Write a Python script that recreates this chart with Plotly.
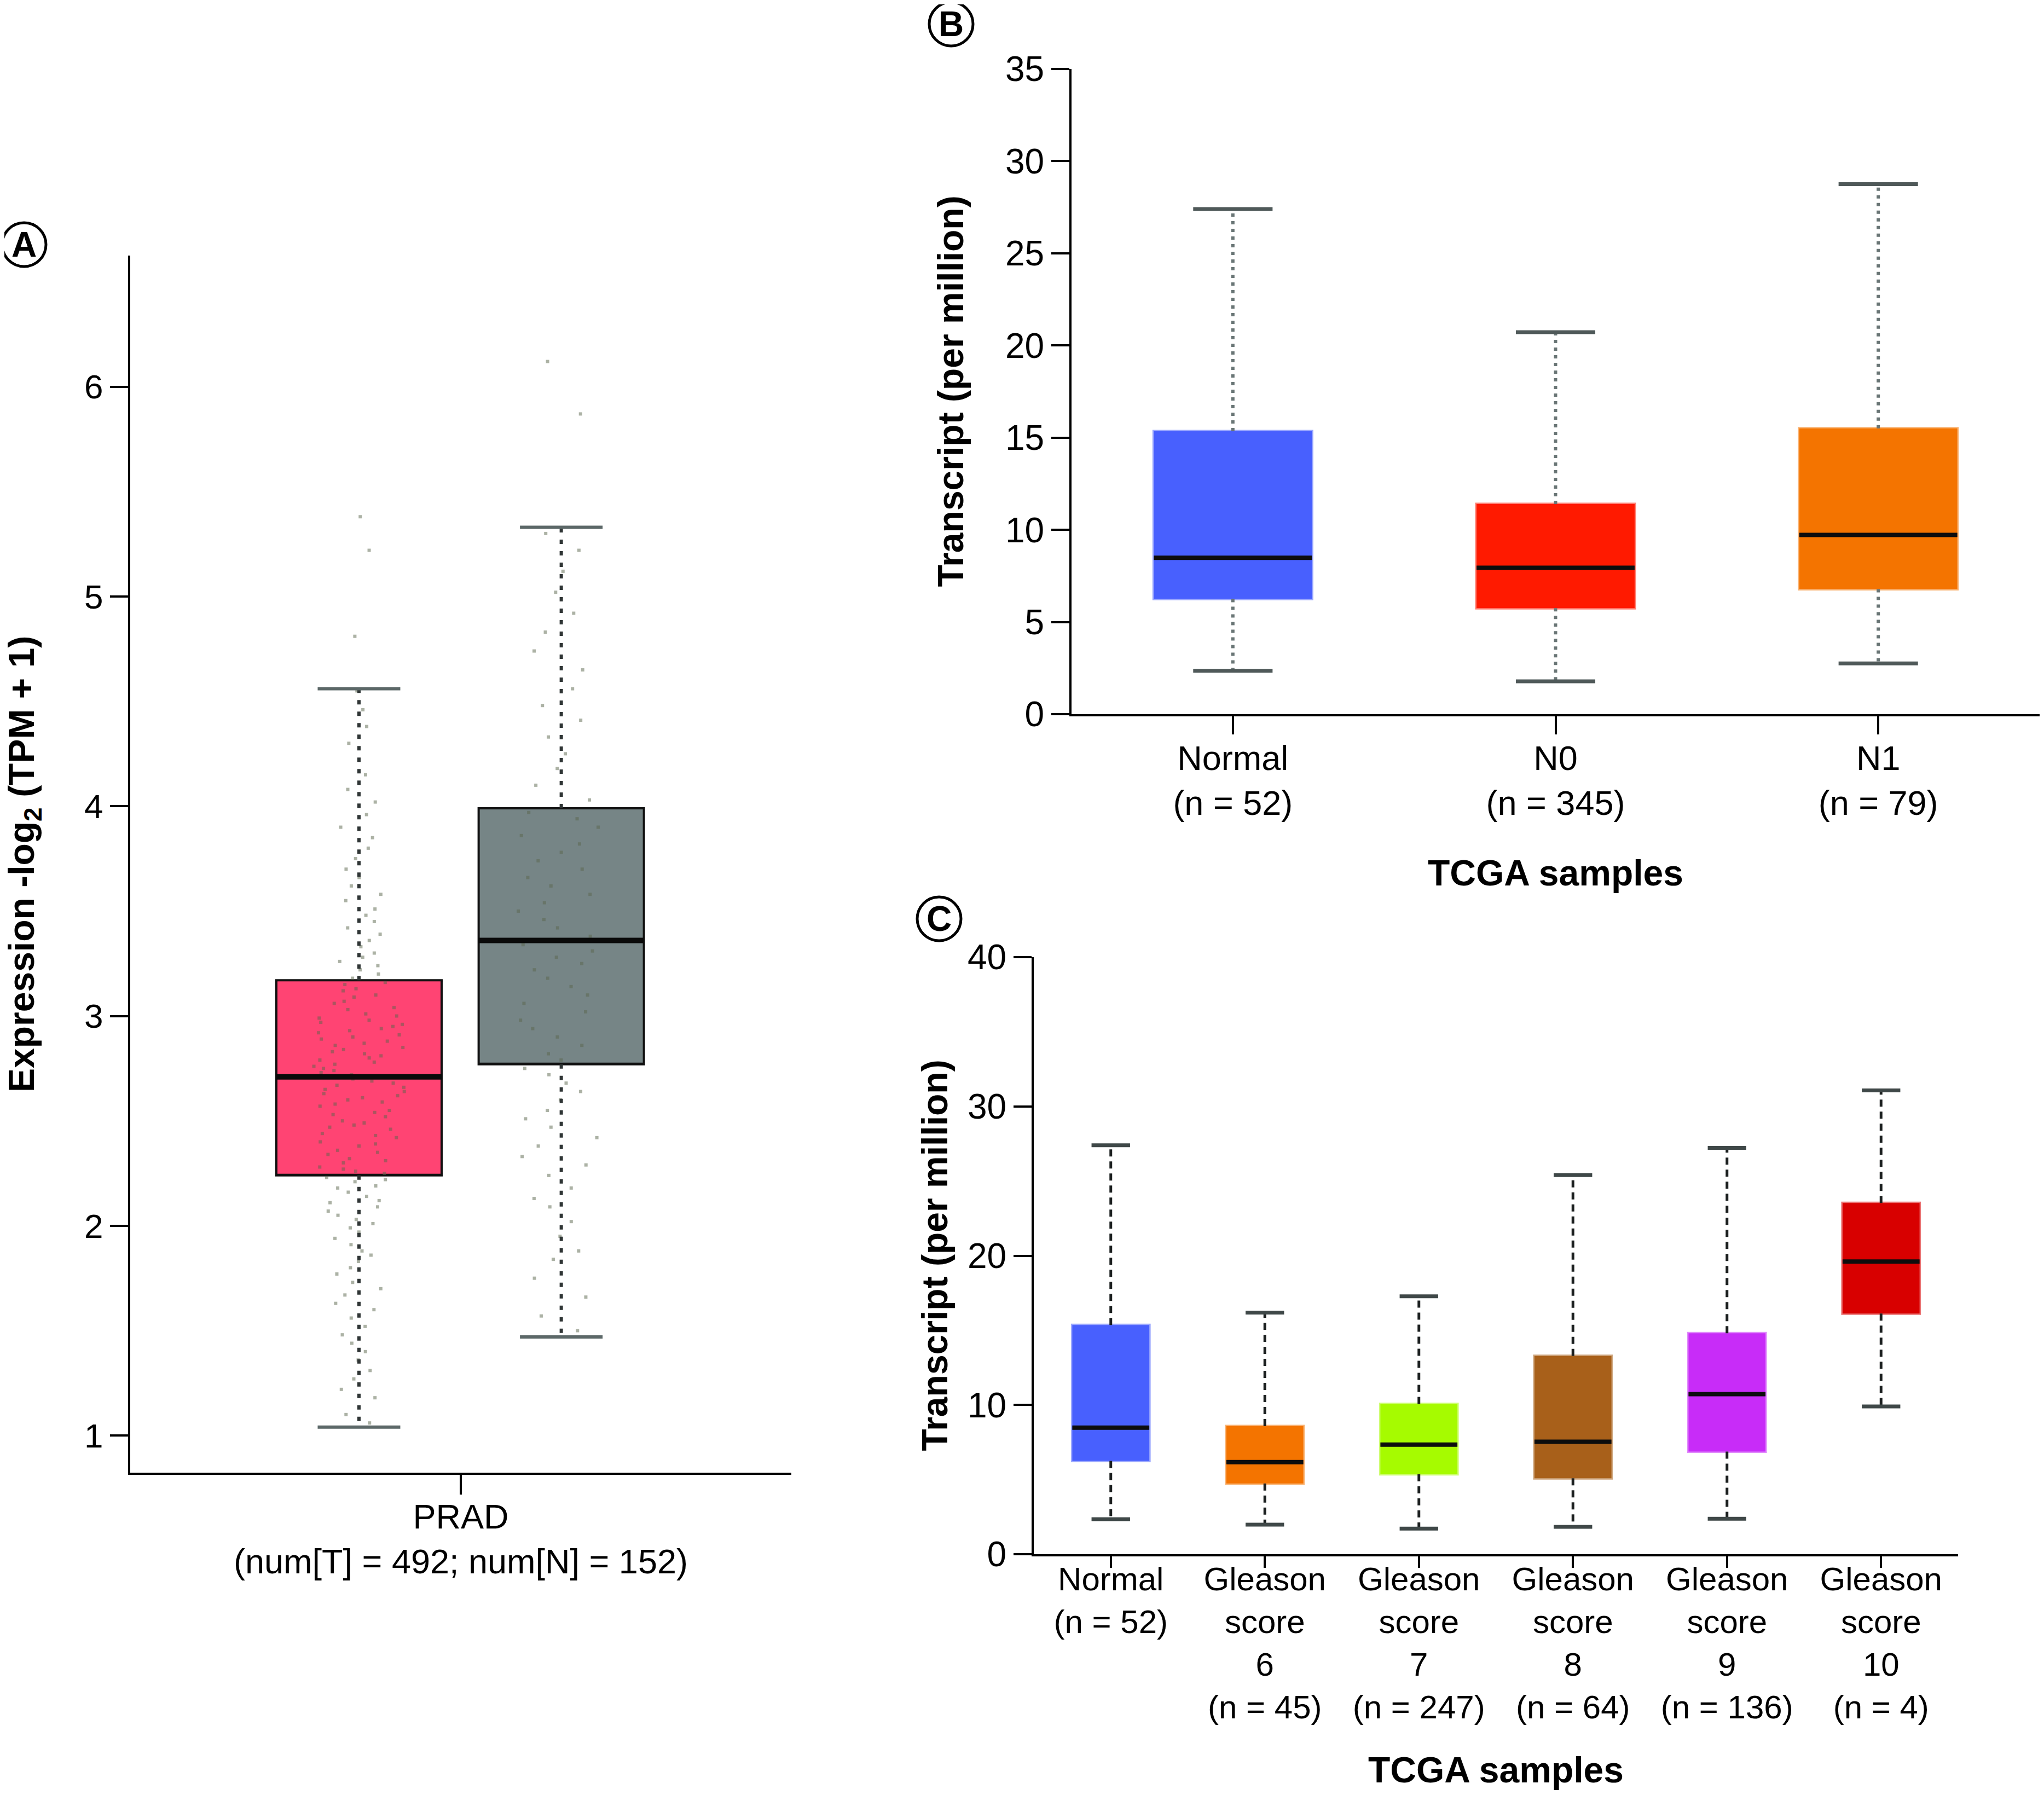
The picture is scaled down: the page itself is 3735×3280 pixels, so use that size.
import plotly.graph_objects as go

# ---------------- data ----------------
# Panel A: PRAD expression, log2(TPM + 1)
a_groups = ["Tumor", "Normal"]
a_q1 = [2.24, 2.77]
a_median = [2.71, 3.36]
a_q3 = [3.17, 3.99]
a_lower = [1.04, 1.47]
a_upper = [4.56, 5.33]
a_xtick = ["PRAD<br>(num[T] = 492; num[N] = 152)"]
a_tumor_points = [
    1.06, 1.10, 1.18, 1.22, 1.27, 1.31, 1.36, 1.40, 1.44, 1.48,
    1.52, 1.56, 1.60, 1.63, 1.67, 1.70, 1.73, 1.77, 1.80, 1.83, 1.86, 1.88, 1.91, 1.94, 1.97, 1.99,
    2.01, 2.03, 2.05, 2.07, 2.09, 2.11, 2.12, 2.14, 2.16, 2.18, 2.19, 2.21, 2.22, 2.23,
    2.25, 2.26, 2.27, 2.28, 2.30, 2.31, 2.32, 2.34, 2.35, 2.36, 2.38, 2.39, 2.40, 2.42, 2.43,
    2.44, 2.46, 2.47, 2.48, 2.49, 2.50, 2.52, 2.53, 2.54, 2.55, 2.57, 2.58, 2.59, 2.60, 2.61,
    2.62, 2.63, 2.64, 2.65, 2.66, 2.67, 2.68, 2.69, 2.70, 2.71,
    2.72, 2.73, 2.74, 2.75, 2.76, 2.77, 2.78, 2.79, 2.80, 2.81, 2.82, 2.83, 2.84, 2.85, 2.86,
    2.87, 2.88, 2.89, 2.90, 2.91, 2.92, 2.93, 2.94, 2.95, 2.96, 2.97, 2.98, 2.99, 3.00, 3.01,
    3.03, 3.04, 3.06, 3.07, 3.09, 3.10, 3.12, 3.13, 3.15, 3.16,
    3.18, 3.20, 3.22, 3.24, 3.26, 3.28, 3.30, 3.33, 3.36, 3.39, 3.42, 3.45, 3.48, 3.51, 3.55, 3.58,
    3.62, 3.66, 3.70, 3.75, 3.80, 3.85, 3.90, 3.96, 4.02, 4.08, 4.15, 4.22, 4.30, 4.38, 4.46, 4.55,
    4.81, 5.22, 5.38,
]
a_normal_points = [
    1.50, 1.57, 1.66, 1.75, 1.84, 1.88, 1.95,
    2.02, 2.09, 2.13, 2.18, 2.24, 2.29, 2.33, 2.38, 2.42, 2.47, 2.51, 2.55, 2.60, 2.64, 2.68, 2.72, 2.75,
    2.79, 2.82, 2.86, 2.90, 2.94, 2.98, 3.02, 3.06, 3.10, 3.14, 3.18, 3.22, 3.25, 3.28, 3.31, 3.34,
    3.38, 3.42, 3.46, 3.50, 3.54, 3.58, 3.62, 3.66, 3.70, 3.74, 3.78, 3.82, 3.86, 3.90, 3.94, 3.97,
    4.03, 4.10, 4.18, 4.25, 4.33, 4.41, 4.48, 4.56, 4.65, 4.74, 4.83, 4.92, 5.02, 5.12, 5.22, 5.30,
    5.87, 6.12,
]

# Panel B: nodal metastasis status, transcript per million
b_categories = ["Normal<br>(n = 52)", "N0<br>(n = 345)", "N1<br>(n = 79)"]
b_q1 = [6.25, 5.75, 6.78]
b_median = [8.48, 7.94, 9.72]
b_q3 = [15.35, 11.40, 15.50]
b_lower = [2.35, 1.78, 2.75]
b_upper = [27.40, 20.72, 28.75]

# Panel C: Gleason score, transcript per million
c_categories = [
    "Normal<br>(n = 52)",
    "Gleason<br>score<br>6<br>(n = 45)",
    "Gleason<br>score<br>7<br>(n = 247)",
    "Gleason<br>score<br>8<br>(n = 64)",
    "Gleason<br>score<br>9<br>(n = 136)",
    "Gleason<br>score<br>10<br>(n = 4)",
]
c_q1 = [6.25, 4.74, 5.36, 5.09, 6.87, 16.12]
c_median = [8.48, 6.17, 7.34, 7.53, 10.72, 19.61]
c_q3 = [15.35, 8.58, 10.06, 13.28, 14.80, 23.53]
c_lower = [2.35, 1.98, 1.71, 1.83, 2.37, 9.90]
c_upper = [27.40, 16.19, 17.28, 25.40, 27.22, 31.07]

# ---------------- style ----------------
PAGE_W, PAGE_H = 3735, 3280
OFF = 8                       # default body margin of the html page
W, H = PAGE_W - 2 * OFF, PAGE_H - 2 * OFF
FONT = "Liberation Sans, Arial, Helvetica, sans-serif"
A_COLORS = ["#ff4473", "#768586"]
B_COLORS = [(72, 96, 254), (255, 26, 0), (244, 116, 0)]
C_COLORS = [(72, 96, 254), (244, 116, 0), (166, 251, 0), (168, 96, 26), (200, 44, 248), (216, 0, 0)]
A_POS = [0.346, 0.652]
A_BOXW = 0.25


def px_x(p):
    return min(1.0, max(0.0, (p - OFF) / W))


def px_y(p):
    return min(1.0, max(0.0, 1 - (p - OFF) / H))


fig = go.Figure()


def add_boxes(pos, q1, q3, width, fills, edges, lw, xa, ya):
    for p, a, b, f, e in zip(pos, q1, q3, fills, edges):
        fig.add_trace(go.Box(
            x=[p], q1=[a], median=[a], q3=[b], lowerfence=[a], upperfence=[b],
            width=width, fillcolor=f, line=dict(color=e, width=lw),
            whiskerwidth=0, boxpoints=False, xaxis=xa, yaxis=ya, hoverinfo="skip"))


def add_whiskers(pos, q1, q3, lo, hi, xa, ya, color, lw, dash):
    xs, ys = [], []
    for p, a, b, c, d in zip(pos, q1, q3, lo, hi):
        xs += [p, p, None, p, p, None]
        ys += [b, d, None, a, c, None]
    fig.add_trace(go.Scatter(x=xs, y=ys, mode="lines", xaxis=xa, yaxis=ya,
                             line=dict(color=color, width=lw, dash=dash), hoverinfo="skip"))


def add_hsegments(pos, vals_list, hw, xa, ya, color, lw):
    xs, ys = [], []
    for vals in vals_list:
        for p, v in zip(pos, vals):
            xs += [p - hw, p + hw, None]
            ys += [v, v, None]
    fig.add_trace(go.Scatter(x=xs, y=ys, mode="lines", xaxis=xa, yaxis=ya,
                             line=dict(color=color, width=lw), hoverinfo="skip"))


# ---- Panel A ----
add_boxes(A_POS, a_q1, a_q3, A_BOXW, A_COLORS, ["#111111", "#111111"], 4, "x", "y")
add_whiskers(A_POS, a_q1, a_q3, a_lower, a_upper, "x", "y", "#2f3535", 6, "8px,13px")
add_hsegments(A_POS, [a_lower, a_upper], A_BOXW / 4, "x", "y", "#5c6868", 6)
for p, pts in zip(A_POS, [a_tumor_points, a_normal_points]):
    fig.add_trace(go.Box(
        x0=p, y=pts, width=A_BOXW, boxpoints="all", jitter=0.55, pointpos=0,
        fillcolor="rgba(0,0,0,0)", line=dict(color="rgba(0,0,0,0)", width=0),
        marker=dict(symbol="square", size=6, color="rgba(90,102,76,0.5)", line=dict(width=0)),
        xaxis="x", yaxis="y", hoverinfo="skip"))
add_hsegments(A_POS, [a_median], A_BOXW / 2, "x", "y", "#0a0a0a", 10)

# ---- Panel B ----
b_pos = list(range(len(b_categories)))
add_whiskers(b_pos, b_q1, b_q3, b_lower, b_upper, "x2", "y2", "#6a7676", 6, "6px,8px")
add_hsegments(b_pos, [b_lower, b_upper], 0.123, "x2", "y2", "#4f5959", 7)
add_boxes(b_pos, b_q1, b_q3, 0.49,
          ["rgb(%d,%d,%d)" % c for c in B_COLORS],
          ["rgba(%d,%d,%d,0.55)" % c for c in B_COLORS], 5, "x2", "y2")
add_hsegments(b_pos, [b_median], 0.245, "x2", "y2", "#0d0d0d", 8)

# ---- Panel C ----
c_pos = list(range(len(c_categories)))
add_whiskers(c_pos, c_q1, c_q3, c_lower, c_upper, "x3", "y3", "#1c2020", 5, "13px,9px")
add_hsegments(c_pos, [c_lower, c_upper], 0.125, "x3", "y3", "#3f4848", 7)
add_boxes(c_pos, c_q1, c_q3, 0.5,
          ["rgb(%d,%d,%d)" % c for c in C_COLORS],
          ["rgba(%d,%d,%d,0.55)" % c for c in C_COLORS], 5, "x3", "y3")
add_hsegments(c_pos, [c_median], 0.25, "x3", "y3", "#0d0d0d", 8)

# ---------------- axes ----------------
axis_common = dict(showgrid=False, zeroline=False, showline=True, linecolor="black", linewidth=4,
                   ticks="outside", tickcolor="black", tickwidth=4, ticklen=33,
                   tickfont=dict(family=FONT, size=64, color="black"), automargin=False)

fig.update_layout(
    width=W, height=H, margin=dict(l=0, r=0, t=0, b=0),
    paper_bgcolor="white", plot_bgcolor="white", showlegend=False, boxmode="overlay",
    xaxis=dict(axis_common, domain=[px_x(238), px_x(1446)], range=[0, 1],
               tickvals=[0.5], ticktext=a_xtick, anchor="y",
               tickfont=dict(family=FONT, size=63, color="black"), ticklen=36,
               ticklabelstandoff=-14),
    yaxis=dict(axis_common, domain=[px_y(2691), px_y(467)], range=[0.823, 6.625],
               tickvals=[1, 2, 3, 4, 5, 6], anchor="x",
               tickfont=dict(family=FONT, size=62, color="black")),
    xaxis2=dict(axis_common, domain=[px_x(1958), 1.0], range=[-0.5, 2.5],
                tickvals=b_pos, ticktext=b_categories, anchor="y2",
                tickfont=dict(family=FONT, size=63, color="black"), ticklabelstandoff=-11),
    yaxis2=dict(axis_common, domain=[px_y(1305), px_y(126)], range=[0, 35],
                tickvals=[0, 5, 10, 15, 20, 25, 30, 35], anchor="x2"),
    xaxis3=dict(axis_common, domain=[px_x(1889), px_x(3578)], range=[-0.5, 5.5],
                tickvals=c_pos, ticktext=c_categories, anchor="y3", ticklen=21,
                tickfont=dict(family=FONT, size=60, color="black"), ticklabelstandoff=-31),
    yaxis3=dict(axis_common, domain=[px_y(2840), px_y(1749)], range=[0, 40],
                tickvals=[0, 10, 20, 30, 40], anchor="x3"),
)

# ---------------- titles & panel letters ----------------
title_font = dict(family=FONT, size=66, color="black")
annotations = [
    dict(text="<b>Expression -log<sub>2</sub> (TPM + 1)</b>", x=px_x(44), y=(px_y(2691) + px_y(467)) / 2,
         textangle=-90),
    dict(text="<b>Transcript (per million)</b>", x=px_x(1736), y=(px_y(1305) + px_y(126)) / 2, textangle=-90),
    dict(text="<b>Transcript (per million)</b>", x=px_x(1707), y=(px_y(2840) + px_y(1749)) / 2, textangle=-90),
    dict(text="<b>TCGA samples</b>", x=(px_x(1958) + px_x(3735)) / 2, y=px_y(1595)),
    dict(text="<b>TCGA samples</b>", x=(px_x(1889) + px_x(3578)) / 2, y=px_y(3234)),
]
for a in annotations:
    fig.add_annotation(xref="paper", yref="paper", showarrow=False, xanchor="center", yanchor="middle",
                       font=title_font, **a)

letters = [("A", 44, 447), ("B", 1738, 44), ("C", 1716, 1679)]
for letter, cx, cy in letters:
    fig.add_shape(type="circle", xref="paper", yref="paper", xsizemode="pixel", ysizemode="pixel",
                  xanchor=px_x(cx), yanchor=px_y(cy), x0=-40, x1=40, y0=-40, y1=40,
                  line=dict(color="black", width=5), fillcolor="rgba(0,0,0,0)")
    fig.add_annotation(text="<b>%s</b>" % letter, xref="paper", yref="paper", x=px_x(cx), y=px_y(cy),
                       showarrow=False, xanchor="center", yanchor="middle",
                       font=dict(family=FONT, size=64, color="black"))

fig.write_html("out.html")
